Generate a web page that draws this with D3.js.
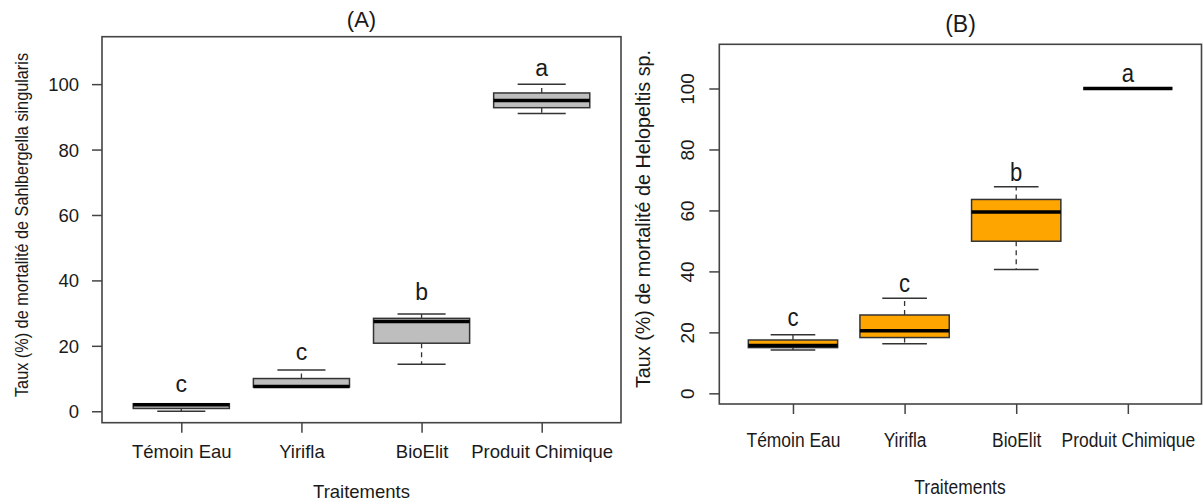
<!DOCTYPE html>
<html>
<head>
<meta charset="utf-8">
<script src="https://cdn.jsdelivr.net/npm/d3@7"></script>
<style>
    body { margin:0; background:#fff; }
    text { font-family:'Liberation Sans', Arial, sans-serif; fill:#1a1a1a; }
</style>
</head>
<body>
<script>
var treatments = ["Témoin Eau","Yirifla","BioElit","Produit Chimique"]
var groupPos = [1,2,3,4]
var yTicks = [0,20,40,60,80,100]

//(A) Sahlbergella singularis
var sahlMin = [0, 7.4, 14.4, 91]
var sahlQ1 = [0.85, 7.4, 20.8, 92.8]
var sahlMed = [2.0, 7.6, 27.4, 95.0]
var sahlQ3 = [2.3, 10.0, 28.4, 97.3]
var sahlMax = [2.3, 12.6, 29.7, 100]
var sahlLetters = ["c","c","b","a"]
var sahlLetterY = [5.9, 15.8, 34.0, 102.5]

//(B) Helopeltis sp.
var heloMin = [14.2, 16.3, 40.6, 100]
var heloQ1 = [15.0, 18.3, 49.9, 100]
var heloMed = [15.7, 20.5, 59.5, 100]
var heloQ3 = [17.5, 25.7, 63.6, 100]
var heloMax = [19.2, 31.2, 67.8, 100]
var heloLetters = ["c","c","b","a"]
var heloLetterY = [22.2, 33.1, 69.6, 102.2]

var panelA = {
    left:102, right:621, top:36.7, bottom:422.7,
    fill:"#bebebe",
    title:"(A)", titleX:361.5, titleY:26.5, titleSize:22,
    yTitle:"Taux (%) de mortalité de Sahlbergella singularis",
    yTitleX:27.5, yTitleY:225, yTitleSize:18.5, yTitleLen:344,
    xTitleX:361.5, xTitleY:497.5,
    fontSize:18.5, squeeze:1, letterSize:23, letterSqueeze:1,
    xLabelOff:35, yLabelOff:23, rotateY:false,
    min:sahlMin, q1:sahlQ1, med:sahlMed, q3:sahlQ3, max:sahlMax,
    letters:sahlLetters, letterY:sahlLetterY
}

var panelB = {
    left:719.3, right:1201.5, top:44.3, bottom:404,
    fill:"#ffa500",
    title:"(B)", titleX:960.5, titleY:31.7, titleSize:23,
    yTitle:"Taux (%) de mortalité de Helopeltis sp.",
    yTitleX:650, yTitleY:219, yTitleSize:20, yTitleLen:338,
    xTitleX:960, xTitleY:494.3,
    fontSize:21, squeeze:0.83, letterSize:26, letterSqueeze:0.85,
    xLabelOff:42.7, yLabelOff:25, yTickSize:19, rotateY:true,
    min:heloMin, q1:heloQ1, med:heloMed, q3:heloQ3, max:heloMax,
    letters:heloLetters, letterY:heloLetterY
}

var lineCol = "#333"

var drawPanel = function(svg,p)
{
    var xScale = d3.scaleLinear()
        .domain([0.34,4.66])
        .range([p.left,p.right])

    var yScale = d3.scaleLinear()
        .domain([-3.5,114.5])
        .range([p.bottom,p.top])

    var groups = treatments.map(function(t,i)
    {
        return {name:t, x:groupPos[i], min:p.min[i], q1:p.q1[i], med:p.med[i],
                q3:p.q3[i], max:p.max[i], letter:p.letters[i], letterY:p.letterY[i]}
    })

    var g = svg.append("g")

    //dashed whiskers
    g.selectAll(".whUp")
        .data(groups)
        .enter()
        .append("line")
        .attr("x1",function(d){return xScale(d.x)})
        .attr("x2",function(d){return xScale(d.x)})
        .attr("y1",function(d){return yScale(d.q3)})
        .attr("y2",function(d){return yScale(d.max)})
        .attr("stroke",lineCol)
        .attr("stroke-width",1.3)
        .attr("stroke-dasharray","5,4")

    g.selectAll(".whDown")
        .data(groups)
        .enter()
        .append("line")
        .attr("x1",function(d){return xScale(d.x)})
        .attr("x2",function(d){return xScale(d.x)})
        .attr("y1",function(d){return yScale(d.q1)})
        .attr("y2",function(d){return yScale(d.min)})
        .attr("stroke",lineCol)
        .attr("stroke-width",1.3)
        .attr("stroke-dasharray","5,4")

    //staples
    ;["min","max"].forEach(function(k)
    {
        g.selectAll(".staple-"+k)
            .data(groups)
            .enter()
            .append("line")
            .attr("x1",function(d){return xScale(d.x-0.2)})
            .attr("x2",function(d){return xScale(d.x+0.2)})
            .attr("y1",function(d){return yScale(d[k])})
            .attr("y2",function(d){return yScale(d[k])})
            .attr("stroke",lineCol)
            .attr("stroke-width",1.5)
    })

    //boxes
    g.selectAll(".box")
        .data(groups)
        .enter()
        .append("rect")
        .attr("x",function(d){return xScale(d.x-0.4)})
        .attr("width",function(d){return xScale(d.x+0.4)-xScale(d.x-0.4)})
        .attr("y",function(d){return yScale(d.q3)})
        .attr("height",function(d){return yScale(d.q1)-yScale(d.q3)})
        .attr("fill",p.fill)
        .attr("stroke",lineCol)
        .attr("stroke-width",1.5)

    //medians
    g.selectAll(".median")
        .data(groups)
        .enter()
        .append("line")
        .attr("x1",function(d){return xScale(d.x-0.4)})
        .attr("x2",function(d){return xScale(d.x+0.4)})
        .attr("y1",function(d){return yScale(d.med)})
        .attr("y2",function(d){return yScale(d.med)})
        .attr("stroke","#000")
        .attr("stroke-width",3.5)

    //significance letters
    g.selectAll(".letter")
        .data(groups)
        .enter()
        .append("text")
        .attr("transform",function(d)
        {
            return "translate("+xScale(d.x)+","+yScale(d.letterY)+") scale("+p.letterSqueeze+",1)"
        })
        .attr("text-anchor","middle")
        .style("font-size",p.letterSize+"px")
        .text(function(d){return d.letter})

    //frame
    g.append("rect")
        .attr("x",p.left)
        .attr("y",p.top)
        .attr("width",p.right-p.left)
        .attr("height",p.bottom-p.top)
        .attr("fill","none")
        .attr("stroke","#444")
        .attr("stroke-width",1.6)

    //y axis
    var yAxis = d3.axisLeft(yScale)
        .tickValues(yTicks)
        .tickSize(10)

    var ya = g.append("g")
        .attr("transform","translate("+p.left+",0)")
        .call(yAxis)
    ya.select(".domain").remove()
    ya.selectAll(".tick line").attr("stroke","#444").attr("stroke-width",1.5)
    var yt = ya.selectAll(".tick text")
        .attr("fill","#1a1a1a")
        .style("font-family","'Liberation Sans', Arial, sans-serif")
    if(p.rotateY)
    {
        yt.attr("transform","rotate(-90)")
            .attr("x",0)
            .attr("y",-p.yLabelOff)
            .attr("dy",0)
            .attr("text-anchor","middle")
            .style("font-size",p.yTickSize+"px")
    }
    else
    {
        yt.attr("x",-p.yLabelOff)
            .attr("dy","0.35em")
            .style("font-size",p.fontSize+"px")
    }

    //x axis
    var xAxis = d3.axisBottom(xScale)
        .tickValues(groupPos)
        .tickFormat(function(d){return treatments[d-1]})
        .tickSize(10)

    var xa = g.append("g")
        .attr("transform","translate(0,"+p.bottom+")")
        .call(xAxis)
    xa.select(".domain").remove()
    xa.selectAll(".tick line").attr("stroke","#444").attr("stroke-width",1.5)
    xa.selectAll(".tick text")
        .attr("y",p.xLabelOff)
        .attr("dy",0)
        .attr("transform","scale("+p.squeeze+",1)")
        .attr("fill","#1a1a1a")
        .style("font-family","'Liberation Sans', Arial, sans-serif")
        .style("font-size",p.fontSize+"px")

    //titles
    g.append("text")
        .attr("x",p.titleX)
        .attr("y",p.titleY)
        .attr("text-anchor","middle")
        .style("font-size",p.titleSize+"px")
        .text(p.title)

    g.append("text")
        .attr("transform","translate("+p.xTitleX+","+p.xTitleY+") scale("+p.squeeze+",1)")
        .attr("text-anchor","middle")
        .style("font-size",p.fontSize+"px")
        .text("Traitements")

    g.append("text")
        .attr("transform","translate("+p.yTitleX+","+p.yTitleY+") rotate(-90)")
        .attr("text-anchor","middle")
        .attr("textLength",p.yTitleLen)
        .attr("lengthAdjust","spacingAndGlyphs")
        .style("font-size",p.yTitleSize+"px")
        .text(p.yTitle)
}

var svg = d3.select("body")
    .append("svg")
    .attr("width",1203)
    .attr("height",504)

drawPanel(svg,panelA)
drawPanel(svg,panelB)
</script>
</body>
</html>
